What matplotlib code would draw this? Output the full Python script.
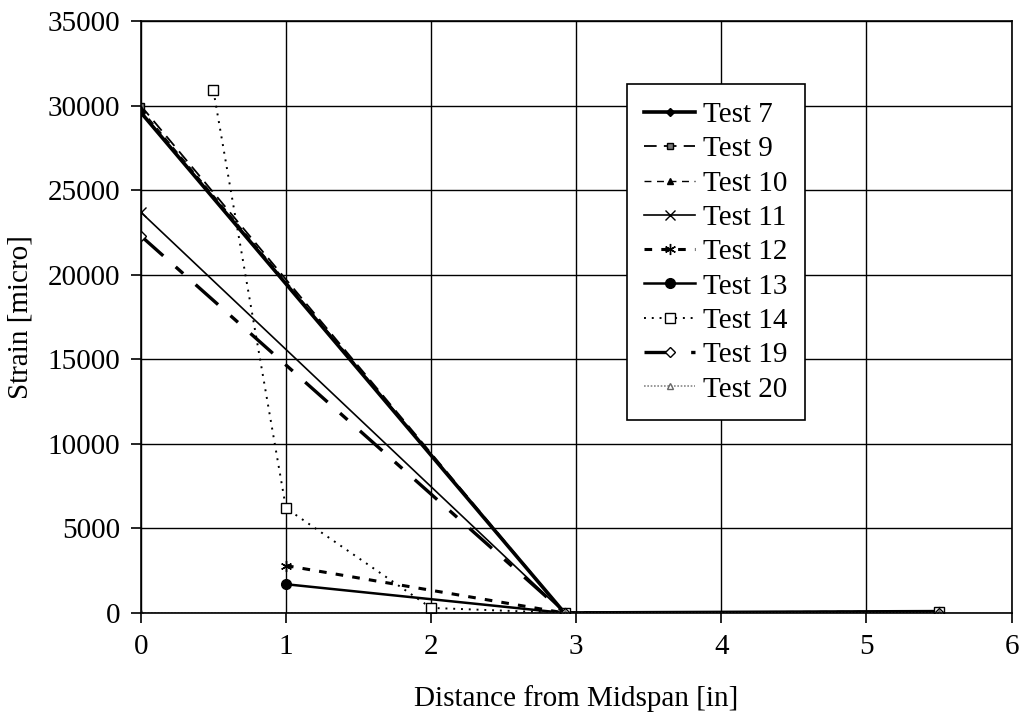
import matplotlib.pyplot as plt

plt.rcParams['font.family'] = ['Liberation Serif', 'DejaVu Serif']

# Strain readings vs. distance from midspan
x_7 = [0, 2.92, 5.5]
y_7 = [29600, 0, 80]
x_9 = [0, 2.92, 5.5]
y_9 = [30000, 0, 100]
x_10 = [0, 2.92, 5.5]
y_10 = [29800, 0, 50]
x_11 = [0, 2.92, 5.5]
y_11 = [23700, 0, 0]
x_12 = [1, 2.92, 5.5]
y_12 = [2800, 0, 50]
x_13 = [1, 2.92, 5.5]
y_13 = [1700, 0, 0]
x_14 = [0.5, 1, 2, 2.92, 5.5]
y_14 = [30900, 6200, 300, 0, 50]
x_19 = [0, 2.92, 5.5]
y_19 = [22300, 0, 0]
x_20 = [0, 2.92, 5.5]
y_20 = [0, 0, 0]

fig = plt.figure(figsize=(10.28, 7.28), dpi=100)
ax = fig.add_axes([0.137, 0.158, 0.847, 0.813])

ax.plot(x_7, y_7, color='black', lw=2.6, marker='D', ms=4, label='Test 7')
ax.plot(x_9, y_9, color='black', lw=1.3, ls=(0, (7, 4)), marker='s', ms=5,
        mfc='#777777', mec='black', label='Test 9')
ax.plot(x_10, y_10, color='black', lw=1.0, ls=(0, (5, 4)), marker='^', ms=5,
        label='Test 10')
ax.plot(x_11, y_11, color='black', lw=1.2, marker='x', ms=7, label='Test 11')
ax.plot(x_12, y_12, color='black', lw=2.2, ls=(0, (2.5, 3)), marker=(6, 2, 0),
        ms=8, label='Test 12')
ax.plot(x_13, y_13, color='black', lw=1.8, marker='o', ms=7, label='Test 13')
ax.plot(x_14, y_14, color='black', lw=1.4, ls=(0, (1, 3)), marker='s', ms=7,
        mfc='white', mec='black', mew=1, label='Test 14')
ax.plot(x_19, y_19, color='black', lw=2.4, ls=(0, (9, 5, 3, 5)), marker='D',
        ms=5, mfc='white', mec='black', label='Test 19')
ax.plot(x_20, y_20, color='#888888', lw=1.2, ls=(0, (1, 1)), marker='^', ms=5,
        mfc='white', mec='#666666', label='Test 20')

ax.set_xlim(0, 6)
ax.set_ylim(0, 35000)
ax.set_xticks(range(0, 7))
ax.set_yticks(range(0, 35001, 5000))
ax.grid(True, color='black', lw=1.0)
ax.set_axisbelow(True)
for s in ax.spines.values():
    s.set_linewidth(1.2)
    s.set_color('black')
ax.tick_params(axis='both', direction='out', length=7, width=1.2,
               labelsize=21, colors='black', pad=8)

ax.set_xlabel('Distance from Midspan [in]', fontsize=21, labelpad=18)
ax.set_ylabel('Strain [micro]', fontsize=21, labelpad=10)

leg = ax.legend(loc='lower left', bbox_to_anchor=(0.558, 0.326), fontsize=21,
                frameon=True, fancybox=False, framealpha=1, edgecolor='black',
                handlelength=1.75, handletextpad=0.25, labelspacing=0.27,
                borderpad=0.6, borderaxespad=0)
leg.get_frame().set_linewidth(1.2)

plt.savefig('out.png', dpi=100)
